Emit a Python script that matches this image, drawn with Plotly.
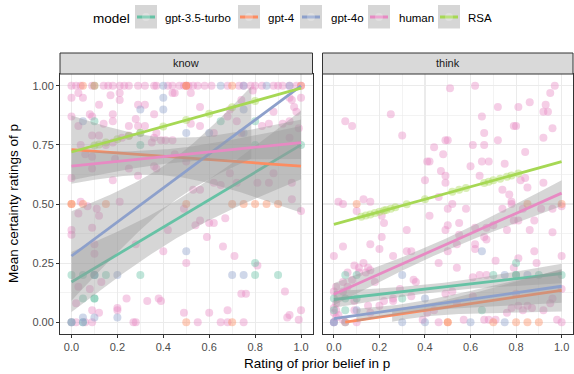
import numpy as np
import plotly.graph_objects as go

# ---------------- data ----------------
models = ["gpt-3.5-turbo", "gpt-4", "gpt-4o", "human", "RSA"]
colors = ["#66C2A5", "#FC8D62", "#8DA0CB", "#E78AC3", "#A6D854"]
facets = ["know", "think"]
x_ticks = [0.0, 0.2, 0.4, 0.6, 0.8, 1.0]
y_ticks = [0.0, 0.25, 0.5, 0.75, 1.0]

# points: [prior rating, mean certainty]
know_human = [
    [0, 1], [0.02, 1], [0.04, 1], [0.09, 1], [0.14, 1], [0.16, 1], [0.18, 1], [0.21, 1], [0.23, 1],
    [0.25, 1], [0.29, 1], [0.32, 1], [0.36, 1], [0.37, 1], [0.42, 1], [0.44, 1], [0.47, 1], [0.49, 1],
    [0.51, 1], [0.53, 1], [0.55, 1], [0.58, 1], [0.61, 1], [0.68, 1], [0.73, 1], [0.75, 1], [0.78, 1],
    [0.8, 1], [0.83, 1], [0.88, 1], [0.9, 1], [0.92, 1], [0.95, 1], [0.98, 1], [1.0, 1], [0.5, 1],
    [0.0, 0.95], [0.03, 0.97], [0.05, 0.95], [0.08, 0.88], [0.12, 0.92], [0.09, 0.87], [0.17, 0.96],
    [0.21, 0.97], [0.21, 0.94], [0.29, 0.92], [0.32, 0.92], [0.36, 0.88], [0.44, 0.97], [0.45, 0.97],
    [0.52, 0.97], [0.56, 0.91], [0.69, 0.9], [0.74, 0.94], [0.79, 0.98], [0.88, 0.89], [0.95, 0.95],
    [0.96, 0.94], [0.97, 0.91], [1.0, 0.95], [0.98, 0.89],
    [0, 0.87], [0.03, 0.83], [0.09, 0.79], [0.12, 0.79], [0.14, 0.84], [0.18, 0.88], [0.18, 0.85],
    [0.25, 0.83], [0.28, 0.86], [0.29, 0.83], [0.32, 0.83], [0.36, 0.78], [0.37, 0.8], [0.41, 0.77],
    [0.44, 0.77], [0.52, 0.84], [0.56, 0.83], [0.62, 0.8], [0.68, 0.87], [0.72, 0.85], [0.74, 0.8],
    [0.83, 0.83], [0.86, 0.84], [0.92, 0.84], [0.95, 0.85], [0.95, 0.78], [0.99, 0.82], [0.18, 0.76],
    [0.22, 0.78], [0.25, 0.79], [0.35, 0.76], [0.39, 0.77], [0.04, 0.75],
    [0.09, 0.7], [0.15, 0.75], [0.19, 0.69], [0.25, 0.65], [0.29, 0.62], [0.36, 0.66], [0.37, 0.65],
    [0.45, 0.71], [0.5, 0.68], [0.53, 0.56], [0.56, 0.56], [0.62, 0.59], [0.65, 0.58], [0.69, 0.63],
    [0.72, 0.59], [0.81, 0.59], [0.86, 0.59], [0.88, 0.63], [0.96, 0.59], [0, 0.61], [0.06, 0.71],
    [0.09, 0.65], [0.18, 0.6], [0.04, 0.51], [0.21, 0.51], [0.49, 0.48], [0.96, 0.52], [1.0, 0.47],
    [0, 0.39], [0, 0.37], [0.03, 0.46], [0.07, 0.49], [0.11, 0.48], [0.12, 0.45], [0.09, 0.4],
    [0.28, 0.33], [0.4, 0.3], [0.42, 0.39], [0.5, 0.25], [0.54, 0.41], [0.56, 0.43], [0.59, 0.36],
    [0.6, 0.42], [0.62, 0.42], [0.66, 0.32], [0.67, 0.44], [0.71, 0.28], [0.81, 0.24], [0.1, 0.33],
    [0.1, 0.29],
    [0.02, 0.08], [0.08, 0.14], [0.09, 0.05], [0.12, 0.04], [0.13, 0.17], [0.2, 0.05], [0.2, 0.06],
    [0.24, 0.1], [0.33, 0.09], [0.38, 0.1], [0.39, 0.09], [0.49, 0.04], [0.6, 0.04], [0.68, 0.05],
    [0.74, 0.12], [0.76, 0.12], [0.93, 0.13], [0.94, 0.02], [0.95, 0.03], [1.0, 0.05], [0.99, 0.01],
    [0, 0], [0.06, 0], [0.09, 0], [0.27, 0], [0.28, 0], [0.55, 0], [0.65, 0], [0.68, 0], [0.75, 0],
    [0.03, 0.15], [0.02, 0.0],
]
know_gpt35 = [
    [0, 0.2], [0.05, 0.2], [0.1, 0.2], [0.15, 0.2], [0.3, 0.2], [0.8, 0.2], [0.9, 0.2], [0.8, 0.25],
    [0.05, 0.1], [0.1, 0.1], [0.1, 0.1], [0, 0], [0.1, 0.85], [0.3, 0.75], [0.65, 0.85], [0.8, 0.85],
    [1.0, 0.75], [0.1, 1.0], [0.8, 0.75], [0.05, 0.0], [0.1, 0.2],
]
know_gpt4 = [
    [0, 0.5], [0, 0.5], [0.05, 0.5], [0.15, 0.5], [0.5, 0.5], [0.7, 0.5], [0.75, 0.5], [0.8, 0.5],
    [0.85, 0.5], [0.9, 0.5], [0.05, 1], [0.1, 1], [0.5, 1], [0.5, 1], [0.7, 1], [1.0, 1], [0.5, 0],
    [0.7, 0],
]
know_gpt4o = [
    [0.4, 1], [0.65, 1], [0.75, 1], [0.85, 1], [0.95, 1], [0.4, 0.95], [0.4, 0.9], [0.3, 0.9],
    [0.05, 0.85], [0.3, 0.8], [0.5, 0.8], [0.6, 0.8], [0.75, 0.8], [0.75, 0.9], [0.2, 0.2], [0.7, 0.2],
    [0.75, 0.2], [0.1, 0.2], [0.5, 0.3], [0.05, 0.02], [0.2, 0.02], [0.1, 0.02], [0, 0], [0.05, 0],
]
know_rsa = [
    [0.1, 0.747], [0.12, 0.752], [0.15, 0.76], [0.2, 0.774], [0.25, 0.788], [0.3, 0.801],
    [0.4, 0.828], [0.5, 0.855], [0.6, 0.882], [0.7, 0.909], [0.8, 0.936],
]

think_human = [
    [0.51, 0.99], [0.62, 1.0], [0.97, 1.0], [0.95, 0.97], [0.72, 0.91], [0.81, 0.91], [0.86, 0.93],
    [0.93, 0.92], [0.92, 0.89], [0.94, 0.89], [0.05, 0.85], [0.08, 0.83], [0.25, 0.88], [0.65, 0.87],
    [0.3, 0.79], [0.79, 0.83], [0.8, 0.83], [0.96, 0.82], [0.66, 0.8], [0.92, 0.78], [0.49, 0.77],
    [0.5, 0.77], [0.61, 0.75], [0.66, 0.75], [0.44, 0.74], [0.72, 0.77], [0.48, 0.71], [0.84, 0.72],
    [0.42, 0.68], [0.41, 0.68], [0.65, 0.68], [0.68, 0.68], [0.75, 0.67], [0.6, 0.66], [0.47, 0.64],
    [0.4, 0.6], [0.49, 0.62], [0.49, 0.59], [0.64, 0.62], [0.92, 0.59], [0.74, 0.56], [0.77, 0.54],
    [0.82, 0.6], [0.84, 0.61], [0.85, 0.57], [0.02, 0.51], [0.04, 0.5], [0.13, 0.52], [0.16, 0.51],
    [0.1, 0.47], [0.46, 0.53], [0.52, 0.5], [0.5, 0.48], [0.58, 0.48], [0.74, 0.48], [0.78, 0.5],
    [0.78, 0.51], [0.83, 0.48], [0.91, 0.48], [0.96, 0.48], [1.0, 0.49], [0.88, 0.43], [0.55, 0.42],
    [0.62, 0.4], [0.67, 0.4], [0.21, 0.45], [0.22, 0.42], [0.32, 0.39], [0.42, 0.45], [0.49, 0.39],
    [0.5, 0.41], [0.55, 0.37], [0.54, 0.33], [0.62, 0.33], [0.62, 0.31], [0.66, 0.36], [0.67, 0.35],
    [0.7, 0.41], [0.76, 0.39], [0.79, 0.43], [0.81, 0.43], [0.86, 0.39], [0.96, 0.38], [0.21, 0.36],
    [0.2, 0.31], [0.16, 0.33], [0.04, 0.32], [0, 0.28], [0.26, 0.28], [0.32, 0.3], [0.34, 0.3],
    [0.5, 0.3], [0.46, 0.25], [0.54, 0.23], [0.61, 0.19], [0.64, 0.2], [0.67, 0.2], [0.71, 0.26],
    [0.79, 0.23], [0.81, 0.27], [0.89, 0.25], [1.0, 0.28], [0.88, 0.3],
    [0.09, 0.24], [0.11, 0.23], [0.13, 0.25], [0.14, 0.21], [0.15, 0.23], [0.16, 0.22], [0.18, 0.17],
    [0.11, 0.21], [0.06, 0.21], [0.04, 0.17], [0.06, 0.15], [0.08, 0.18], [0.01, 0.15], [0, 0.13],
    [0.04, 0.13], [0, 0.06], [0, 0.04], [0.01, 0.02], [0.01, 0.05], [0.04, 0.01], [0.09, 0.09],
    [0.09, 0.05], [0.1, 0.0], [0.15, 0.07], [0.16, 0.04], [0.2, 0.07], [0.22, 0.09], [0.26, 0.1],
    [0.26, 0.09], [0.29, 0.14], [0.34, 0.11], [0.35, 0.18], [0.36, 0.17], [0.39, 0.01], [0.41, 0.04],
    [0.44, 0.05], [0.46, 0], [0.49, 0.12], [0.52, 0.13], [0.54, 0.08], [0.57, 0.01], [0.61, 0.11],
    [0.66, 0.01], [0.68, 0.01], [0.71, 0.01], [0.76, 0.04], [0.78, 0.06], [0.8, 0.12], [0.81, 0.07],
    [0.83, 0.05], [0.85, 0.07], [0.87, 0.06], [0.92, 0.05], [0.95, 0.08], [0.96, 0.1], [0.98, 0.01],
    [1.0, 0], [1.0, 0.14], [0, 0], [0.01, 0.08], [0.02, 0.03],
]
think_gpt35 = [
    [0.05, 0.2], [0.1, 0.2], [0.05, 0.1], [0.1, 0.1], [0.3, 0.1], [0.65, 0.05], [0.7, 0.2],
    [0.8, 0.25], [0.8, 0.2], [0.8, 0.2], [0.9, 0.2], [1.0, 0.2], [0.05, 0.05], [0, 0.1], [0, 0.05],
]
think_gpt4 = [
    [0.1, 0.5], [0.05, 0], [0.5, 0], [0.5, 0], [0.7, 0], [0.8, 0], [0.85, 0], [0.9, 0], [1.0, 0.5],
    [0.85, 0.5],
]
think_gpt4o = [
    [0.65, 0.3], [0.3, 0], [0.4, 0], [0.6, 0], [0.75, 0], [0.4, 0.1], [0.3, 0.2], [0.75, 0.2],
    [0.85, 0.2], [0, 0], [0, 0], [0.05, 0.0], [0.1, 0.05],
]
think_rsa = [
    [0.12, 0.446], [0.14, 0.451], [0.16, 0.456], [0.18, 0.462], [0.2, 0.467], [0.22, 0.472],
    [0.23, 0.475], [0.25, 0.48], [0.27, 0.486], [0.32, 0.499], [0.4, 0.52], [0.52, 0.552],
    [0.55, 0.56], [0.58, 0.568], [0.66, 0.589], [0.68, 0.594], [0.7, 0.6], [0.73, 0.607],
    [0.76, 0.615], [0.78, 0.621], [0.81, 0.629],
]

points = {
    "know": [know_gpt35, know_gpt4, know_gpt4o, know_human, know_rsa],
    "think": [think_gpt35, think_gpt4, think_gpt4o, think_human, think_rsa],
}

# fitted linear trends (intercept, slope, x-from)
know_intercept = [0.17, 0.73, 0.28, 0.66, 0.72]
know_slope = [0.58, -0.07, 0.72, 0.10, 0.27]
know_xfrom = [0, 0, 0, 0, 0]
think_intercept = [0.096, -0.007, 0.015, 0.118, 0.414]
think_slope = [0.11, 0.142, 0.137, 0.428, 0.265]
think_xfrom = [0, 0.05, 0, 0, 0]
# confidence band: minimum half-width, x of minimum, growth rate
know_ci_min = [0.08, 0.08, 0.09, 0.03, 0]
know_ci_xc = [0.45, 0.4, 0.45, 0.45, 0.5]
know_ci_k = [0.22, 0.30, 0.37, 0.115, 0]
think_ci_min = [0.018, 0.025, 0.02, 0.025, 0]
think_ci_xc = [0.45, 0.35, 0.3, 0.45, 0.5]
think_ci_k = [0.067, 0.133, 0.096, 0.088, 0]

fits = {
    "know": (know_intercept, know_slope, know_xfrom, know_ci_min, know_ci_xc, know_ci_k),
    "think": (think_intercept, think_slope, think_xfrom, think_ci_min, think_ci_xc, think_ci_k),
}

# ---------------- figure ----------------
FONT = "Liberation Sans, Arial, Helvetica, sans-serif"
W, H = 574, 374
ML, MR, MT, MB = 60, 1, 53, 40
PW, PH = W - ML - MR, H - MT - MB


def px_x(p):
    return (p - ML) / PW


def px_y(p):
    return (H - MB - p) / PH


panel_top = px_y(74)
dom_left = [0, px_x(312.5)]
dom_right = [px_x(322.5), 1]


def rgba(hexc, a):
    h = hexc.lstrip("#")
    return "rgba(%d,%d,%d,%.3f)" % (int(h[0:2], 16), int(h[2:4], 16), int(h[4:6], 16), a)


fig = go.Figure()
axes = {"know": ("x", "y"), "think": ("x2", "y2")}
draw_order = [3, 0, 1, 2, 4]

for f in facets:
    xa, ya = axes[f]
    for mi in draw_order:
        pts = np.array(points[f][mi], dtype=float)
        fig.add_trace(go.Scatter(
            x=pts[:, 0], y=pts[:, 1], mode="markers", xaxis=xa, yaxis=ya,
            marker=dict(size=8, color=rgba(colors[mi], 0.42), line=dict(width=0)),
            showlegend=False, hoverinfo="skip"))
    a_, b_, xf_, wmin_, xc_, k_ = fits[f]
    for mi in range(len(models)):
        xs = np.linspace(xf_[mi], 1.0, 121)
        ys = a_[mi] + b_[mi] * xs
        if k_[mi] > 0:
            hw = np.sqrt(wmin_[mi] ** 2 + (k_[mi] * (xs - xc_[mi])) ** 2)
            lo, hi = ys - hw, ys + hw
            ok = (lo >= 0) & (hi <= 1)
            # split into contiguous valid segments (values outside limits are dropped)
            segs, cur = [], []
            for i, v in enumerate(ok):
                if v:
                    cur.append(i)
                elif cur:
                    segs.append(cur)
                    cur = []
            if cur:
                segs.append(cur)
            for s in segs:
                s = np.array(s)
                px = np.concatenate([xs[s], xs[s][::-1]])
                py = np.concatenate([hi[s], lo[s][::-1]])
                fig.add_trace(go.Scatter(
                    x=px, y=py, mode="lines", fill="toself", xaxis=xa, yaxis=ya,
                    fillcolor="rgba(153,153,153,0.4)", line=dict(width=0),
                    showlegend=False, hoverinfo="skip"))
        fig.add_trace(go.Scatter(
            x=xs, y=ys, mode="lines", xaxis=xa, yaxis=ya,
            line=dict(color=colors[mi], width=2.8),
            showlegend=False, hoverinfo="skip"))

axis_common = dict(
    range=[-0.05, 1.05], showgrid=True, gridcolor="#EBEBEB", gridwidth=1.1, zeroline=False,
    showline=True, mirror=True, linecolor="#333333", linewidth=1,
    ticks="outside", ticklen=3, tickwidth=1, tickcolor="#333333",
    tickfont=dict(family=FONT, size=11, color="#4D4D4D"),
)
xcommon = dict(axis_common, tickvals=x_ticks, ticktext=["%.1f" % v for v in x_ticks],
               minor=dict(dtick=0.1, tick0=0, showgrid=True, gridcolor="#EBEBEB", gridwidth=0.6))
ycommon = dict(axis_common, tickvals=y_ticks, ticktext=["%.2f" % v for v in y_ticks],
               minor=dict(dtick=0.125, tick0=0, showgrid=True, gridcolor="#EBEBEB", gridwidth=0.6))

fig.update_layout(
    width=W, height=H, margin=dict(l=ML, r=MR, t=MT, b=MB, pad=0),
    paper_bgcolor="white", plot_bgcolor="white", showlegend=False,
    font=dict(family=FONT), hovermode=False,
    xaxis=dict(xcommon, domain=dom_left, anchor="y"),
    xaxis2=dict(xcommon, domain=dom_right, anchor="y2"),
    yaxis=dict(ycommon, domain=[0, panel_top], anchor="x"),
    yaxis2=dict(ycommon, domain=[0, panel_top], anchor="x2", showticklabels=False, ticks=""),
)

shapes, annotations = [], []
# facet strips
for f, dom in zip(facets, [dom_left, dom_right]):
    shapes.append(dict(type="rect", xref="paper", yref="paper", x0=dom[0], x1=dom[1],
                       y0=panel_top, y1=px_y(53), fillcolor="#D9D9D9",
                       line=dict(color="#333333", width=1)))
    annotations.append(dict(text=f, xref="paper", yref="paper", x=(dom[0] + dom[1]) / 2,
                            y=(panel_top + px_y(53)) / 2, showarrow=False, xanchor="center",
                            yanchor="middle", font=dict(family=FONT, size=11, color="#1A1A1A")))

# axis titles
annotations.append(dict(text="Rating of prior belief in p", xref="paper", yref="paper",
                        x=px_x((ML + 573) / 2), y=px_y(363), showarrow=False,
                        xanchor="center", yanchor="middle",
                        font=dict(family=FONT, size=13.5, color="black")))
annotations.append(dict(text="Mean certainty ratings of p", xref="paper", yref="paper",
                        x=px_x(14), y=px_y(204), showarrow=False, textangle=-90,
                        xanchor="center", yanchor="middle",
                        font=dict(family=FONT, size=13.5, color="black")))

# legend (drawn manually, ggplot style)
annotations.append(dict(text="model", xref="paper", yref="paper", x=px_x(91), y=px_y(18),
                        showarrow=False, xanchor="left", yanchor="middle",
                        font=dict(family=FONT, size=13.5, color="black")))
key_left = [135, 238, 300, 368, 438]
label_left = [163, 266, 329, 397, 466]
for mi, m in enumerate(models):
    x0, x1 = key_left[mi], key_left[mi] + 22
    shapes.append(dict(type="rect", xref="paper", yref="paper", x0=px_x(x0), x1=px_x(x1),
                       y0=px_y(28.5), y1=px_y(5), fillcolor="#D6D6D6", line=dict(width=0)))
    shapes.append(dict(type="line", xref="paper", yref="paper", x0=px_x(x0 + 2), x1=px_x(x1 - 2),
                       y0=px_y(17), y1=px_y(17), line=dict(color=colors[mi], width=3)))
    cx = (x0 + x1) / 2
    shapes.append(dict(type="circle", xref="paper", yref="paper", x0=px_x(cx - 4), x1=px_x(cx + 4),
                       y0=px_y(21), y1=px_y(13), fillcolor=rgba("#FFFFFF", 0.25), line=dict(width=0)))
    annotations.append(dict(text=m, xref="paper", yref="paper", x=px_x(label_left[mi]), y=px_y(17.5),
                            showarrow=False, xanchor="left", yanchor="middle",
                            font=dict(family=FONT, size=11.5, color="black")))

fig.update_layout(shapes=shapes, annotations=annotations)
fig.write_html("out.html", config={"displayModeBar": False, "staticPlot": True},
               post_script="document.body.style.margin='0px';document.body.style.padding='0px';")
